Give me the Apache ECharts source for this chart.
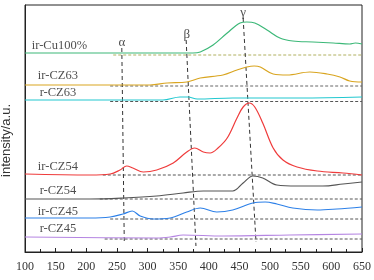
<!DOCTYPE html>
<html>
<head>
<meta charset="utf-8">
<script src="https://cdn.jsdelivr.net/npm/echarts@6/dist/echarts.min.js"></script>
<style>
  html, body { margin: 0; padding: 0; background: #fff; }
  #chart { width: 374px; height: 280px; }
</style>
</head>
<body>
<div id="chart"></div>
<script>
  // sample names, top to bottom
  const names = ['ir-Cu100%', 'ir-CZ63', 'r-CZ63', 'ir-CZ54', 'r-CZ54', 'ir-CZ45', 'r-CZ45']
  const colors = ['#3cb878', '#d9a520', '#22c8d0', '#ef3b3b', '#555555', '#2d80e8', '#b585e2']

  // temperature (°C) and intensity (a.u., offset curves)
  const cu100T = [100, 244, 374, 386, 407, 430, 451, 462, 475, 495, 516, 537, 570, 603, 630, 639, 650]
  const cu100I = [199, 199, 199, 200, 207, 219, 229, 230, 229, 222, 214, 211, 210, 209, 208, 209, 208]

  const ir63T = [100, 304, 332, 364, 386, 423, 446, 462, 474, 484, 505, 528, 565, 593, 614, 630, 650]
  const ir63I = [167, 167, 169, 170, 174, 177, 182, 185, 186, 185, 178, 177, 180, 178, 175, 171, 170]

  const r63T = [100, 325, 353, 366, 381, 439, 549, 650]
  const r63I = [152, 152, 155, 155, 153, 154, 154, 155]

  const ir54T = [100, 206, 239, 255, 266, 276, 293, 315, 342, 364, 377, 391, 402, 415, 430, 446, 456, 466, 475, 488, 505, 521, 544, 577, 619, 650]
  const ir54I = [78, 77, 78, 82, 86, 84, 80, 82, 89, 100, 104, 100, 99, 104, 114, 134, 145, 149, 145, 129, 104, 92, 85, 81, 79, 77]

  const r54T = [100, 206, 260, 315, 358, 391, 413, 439, 456, 472, 488, 511, 544, 586, 619, 650]
  const r54I = [53, 53, 54, 56, 59, 61, 61, 61, 69, 76, 74, 67, 66, 66, 68, 70]

  const ir45T = [100, 206, 239, 260, 275, 288, 309, 337, 364, 386, 413, 439, 472, 492, 511, 537, 577, 609, 650]
  const ir45I = [34, 34, 35, 38, 41, 36, 33, 34, 40, 44, 40, 42, 49, 50, 48, 44, 42, 43, 45]

  const r45T = [100, 315, 337, 358, 423, 532, 650]
  const r45I = [15, 14, 15, 17, 16, 17, 18]

  const curveT = [cu100T, ir63T, r63T, ir54T, r54T, ir45T, r45T]
  const curveI = [cu100I, ir63I, r63I, ir54I, r54I, ir45I, r45I]

  // dashed baselines: start temperature and level
  const baseStart = [244, 239, 239, 227, 222, 239, 230]
  const baseLevel = [197, 166, 150.5, 77, 53, 33, 13]
  const baseColors = ['#b0b060', '#666', '#555', '#555', '#555', '#555', '#555']

  // sample label anchors (left edge of text)
  const labelT = [111, 121, 124, 121, 124, 121, 124]
  const labelI = [206, 176, 159, 85, 61, 40, 23]

  // α β γ guide lines
  const guideNames = ['α', 'β', 'γ']
  const guideTop = [[258, 204], [363, 212], [456, 234]]
  const guideBottom = [[262, 10], [379, 6], [477, 10]]
  const guideLabel = [[258, 209], [364, 217], [456, 239]]

  const xTicks = [100, 650, 50]

  let chart = echarts.init(document.getElementById('chart'))

  let series = []
  names.forEach((name, i) => {
    series.push({
      name: name,
      type: 'line',
      showSymbol: false,
      smooth: 0.35,
      z: 3,
      lineStyle: {color: colors[i], width: 1.2},
      data: curveT[i].map((t, k) => [t, curveI[i][k]])
    })
    series.push({
      type: 'line',
      showSymbol: false,
      z: 2,
      lineStyle: {color: baseColors[i], width: 1, type: [3, 2]},
      data: [[baseStart[i], baseLevel[i]], [xTicks[1], baseLevel[i]]]
    })
  })

  guideNames.forEach((g, i) => {
    series.push({
      type: 'line',
      showSymbol: false,
      z: 2,
      lineStyle: {color: '#333', width: 1, type: [4, 3]},
      data: [guideTop[i], guideBottom[i]]
    })
  })

  // text labels
  series.push({
    type: 'scatter',
    symbolSize: 0,
    silent: true,
    label: {
      show: true,
      position: 'right',
      distance: 0,
      fontFamily: 'Liberation Serif',
      fontSize: 12.5,
      color: '#222',
      formatter: p => names[p.dataIndex]
    },
    data: labelT.map((t, i) => [t, labelI[i]])
  })
  series.push({
    type: 'scatter',
    symbolSize: 0,
    silent: true,
    label: {
      show: true,
      position: 'inside',
      fontFamily: 'Liberation Serif',
      fontSize: 13,
      color: '#222',
      formatter: p => guideNames[p.dataIndex]
    },
    data: guideLabel
  })

  chart.setOption({
    animation: false,
    grid: {
      left: 25, right: 12, top: 5, bottom: 28,
      outerBoundsMode: 'none',
      show: true, borderColor: '#222', borderWidth: 1
    },
    xAxis: {
      type: 'value',
      min: xTicks[0],
      max: xTicks[1],
      interval: xTicks[2],
      axisLine: {lineStyle: {color: '#222'}},
      axisTick: {inside: true, length: 4, lineStyle: {color: '#222'}},
      minorTick: {show: true, splitNumber: 2, length: 3, lineStyle: {color: '#222'}},
      splitLine: {show: false},
      axisLabel: {fontFamily: 'Liberation Serif', fontSize: 12, color: '#333', margin: 9}
    },
    yAxis: {
      type: 'value',
      min: 0,
      max: 247,
      name: 'intensity/a.u.',
      nameLocation: 'middle',
      nameRotate: 90,
      nameGap: 12,
      nameTextStyle: {fontFamily: 'Liberation Sans', fontSize: 13, color: '#333', padding: [0, 24, 0, 0]},
      axisLine: {show: true, lineStyle: {color: '#222'}},
      axisTick: {show: false},
      axisLabel: {show: false},
      splitLine: {show: false}
    },
    series: series
  })
</script>
</body>
</html>
